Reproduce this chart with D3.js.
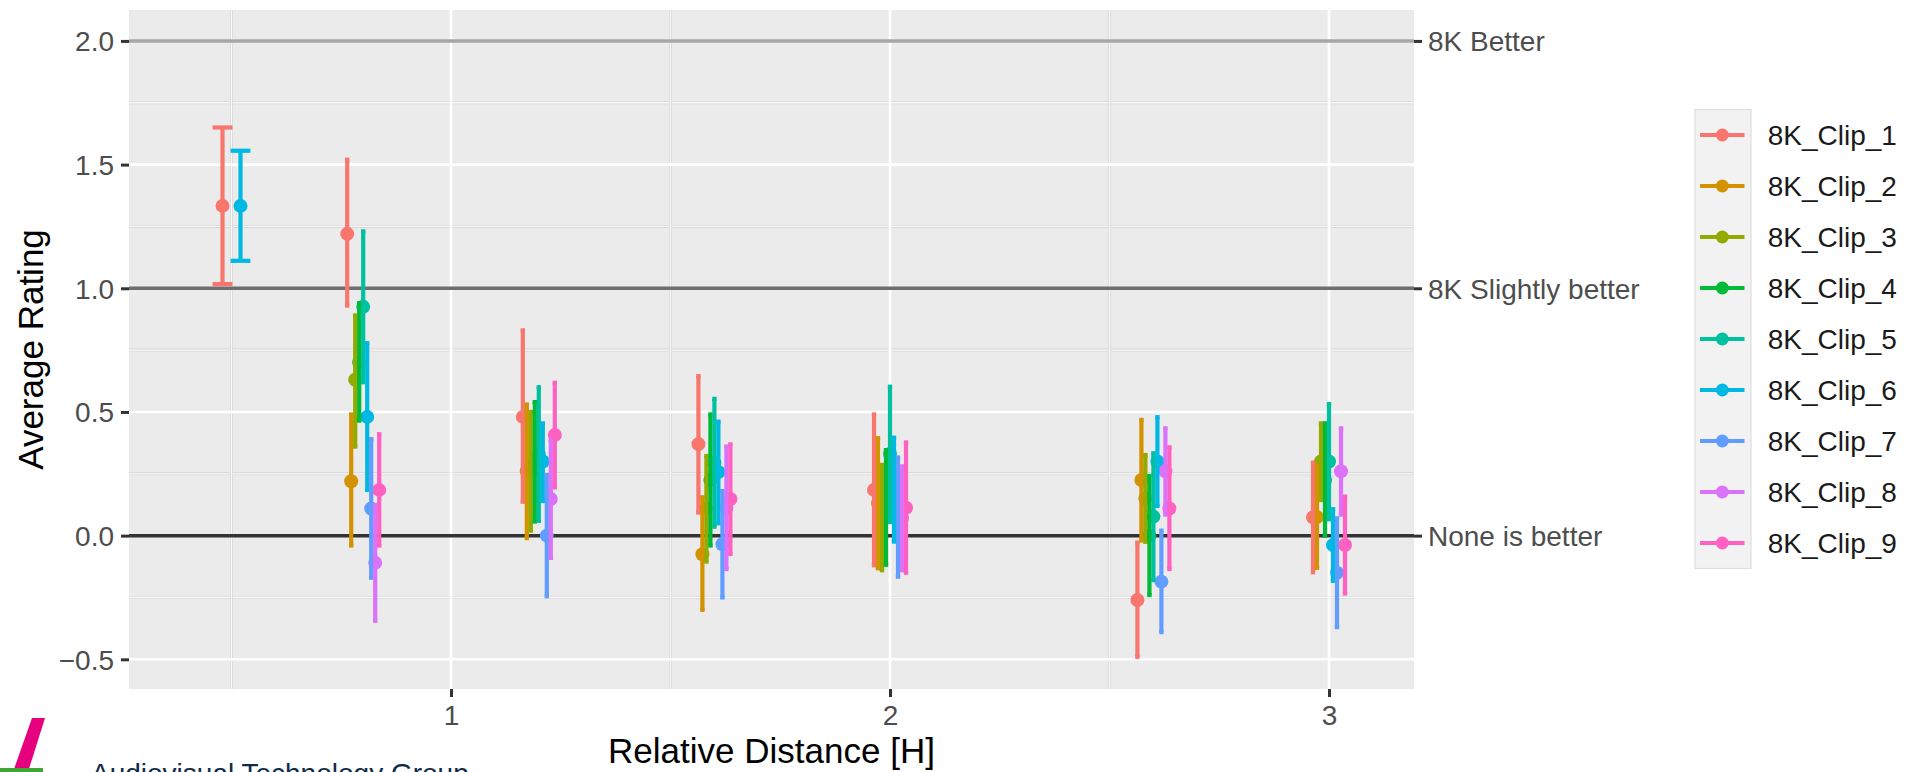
<!DOCTYPE html>
<html>
<head>
<meta charset="utf-8">
<script src="https://cdn.jsdelivr.net/npm/d3@7"></script>
<style>
  body { margin: 0; background: #fff; }
  svg { display: block; font-family: "Liberation Sans", Arial, sans-serif; }
</style>
</head>
<body>
<svg id="grafico" width="1906" height="772"></svg>
<script>
// distanze relative (asse x)
var distances = [0.5, 0.8, 1.2, 1.6, 2.0, 2.6, 3.0];

// nomi delle clip (legenda)
var clips = ['8K_Clip_1', '8K_Clip_2', '8K_Clip_3', '8K_Clip_4', '8K_Clip_5',
             '8K_Clip_6', '8K_Clip_7', '8K_Clip_8', '8K_Clip_9'];

var colors = ['#F8766D', '#D39200', '#93AA00', '#00BA38', '#00C19F',
              '#00B9E3', '#619CFF', '#DB72FB', '#FF61C3'];

// valori medi, una riga per clip, una colonna per distanza (null = non misurato)
var means = [
    [1.333, 1.22, 0.48, 0.37, 0.185, -0.26, 0.074],
    [null, 0.22, 0.26, -0.075, 0.13, 0.225, 0.075],
    [null, 0.63, 0.26, 0.11, 0.075, 0.15, 0.30],
    [null, 0.70, 0.30, 0.225, 0.114, 0.0, 0.225],
    [null, 0.925, 0.33, 0.295, 0.33, 0.077, 0.30],
    [1.333, 0.48, 0.30, 0.257, 0.186, 0.30, -0.038],
    [null, 0.11, 0.0, -0.035, 0.075, -0.186, -0.15],
    [null, -0.11, 0.148, 0.113, 0.07, 0.26, 0.26],
    [null, 0.185, 0.407, 0.148, 0.113, 0.11, -0.038]
];

// estremo inferiore dell'intervallo
var lowers = [
    [1.017, 0.93, 0.137, 0.093, -0.12, -0.49, -0.148],
    [null, -0.04, -0.01, -0.30, -0.132, -0.02, -0.13],
    [null, 0.36, 0.02, -0.105, -0.14, -0.025, 0.144],
    [null, 0.465, 0.057, -0.04, -0.118, -0.24, 0.0],
    [null, 0.62, 0.06, 0.036, 0.055, -0.18, 0.066],
    [1.111, 0.185, 0.14, 0.05, -0.024, 0.12, -0.183],
    [null, -0.17, -0.245, -0.25, -0.166, -0.39, -0.37],
    [null, -0.344, -0.09, -0.135, -0.14, 0.085, 0.085],
    [null, -0.04, 0.195, -0.074, -0.15, -0.135, -0.234]
];

// estremo superiore dell'intervallo
var uppers = [
    [1.65, 1.52, 0.83, 0.645, 0.49, -0.028, 0.295],
    [null, 0.49, 0.53, 0.155, 0.394, 0.468, 0.282],
    [null, 0.89, 0.50, 0.322, 0.286, 0.326, 0.454],
    [null, 0.94, 0.54, 0.49, 0.346, 0.241, 0.454],
    [null, 1.23, 0.60, 0.553, 0.602, 0.333, 0.532],
    [1.556, 0.778, 0.454, 0.461, 0.396, 0.479, 0.107],
    [null, 0.39, 0.245, 0.18, 0.316, 0.02, 0.07],
    [null, 0.124, 0.385, 0.36, 0.28, 0.434, 0.434],
    [null, 0.41, 0.618, 0.369, 0.377, 0.357, 0.158]
];

// tick asse y e linee di riferimento con etichette a destra
var yTicks = [-0.5, 0, 0.5, 1, 1.5, 2];
var yMinor = [-0.25, 0.25, 0.75, 1.25, 1.75];
var xTicks = [1, 2, 3];
var xMinor = [0.5, 1.5, 2.5];
var refValues = [2, 1, 0];
var refLabels = ['8K Better', '8K Slightly better', 'None is better'];
var refColors = ['#A6A6A6', '#6E6E6E', '#333333'];

var svg = d3.select('#grafico');

// area del pannello
var pannello = { left: 129, right: 1414, top: 10, bottom: 689 };

var x = d3.scaleLinear().domain([0.2665, 3.1936]).range([pannello.left, pannello.right]);
var y = d3.scaleLinear().domain([-0.62, 2.125]).range([pannello.bottom, pannello.top]);

var dodge = 0.082;

//costruisce la lista dei punti con la posizione "dodged"
var punti = [];
distances.forEach(function(d, j) {
    var presenti = [];
    clips.forEach(function(c, i) {
        if (means[i][j] !== null) presenti.push(i);
    });
    var n = presenti.length;
    presenti.forEach(function(i, k) {
        punti.push({
            clip: i,
            x: d - dodge / 2 + dodge * (k + 0.5) / n,
            cap: dodge / n * 1.1,
            mean: means[i][j],
            lo: lowers[i][j],
            hi: uppers[i][j]
        });
    });
});

// sfondo pannello
svg.append('rect')
    .attr('x', pannello.left).attr('y', pannello.top)
    .attr('width', pannello.right - pannello.left)
    .attr('height', pannello.bottom - pannello.top)
    .attr('fill', '#EBEBEB');

var griglia = svg.append('g');

//griglia minore
yMinor.forEach(function(v) {
    griglia.append('line')
        .attr('x1', pannello.left).attr('x2', pannello.right)
        .attr('y1', y(v)).attr('y2', y(v))
        .attr('stroke', '#D6D6D6').attr('stroke-width', 3);
    griglia.append('line')
        .attr('x1', pannello.left).attr('x2', pannello.right)
        .attr('y1', y(v)).attr('y2', y(v))
        .attr('stroke', '#FAFAFA').attr('stroke-width', 1.3);
});
xMinor.forEach(function(v) {
    griglia.append('line')
        .attr('y1', pannello.top).attr('y2', pannello.bottom)
        .attr('x1', x(v)).attr('x2', x(v))
        .attr('stroke', '#D6D6D6').attr('stroke-width', 3);
    griglia.append('line')
        .attr('y1', pannello.top).attr('y2', pannello.bottom)
        .attr('x1', x(v)).attr('x2', x(v))
        .attr('stroke', '#FAFAFA').attr('stroke-width', 1.3);
});

//griglia maggiore
yTicks.forEach(function(v) {
    griglia.append('line')
        .attr('x1', pannello.left).attr('x2', pannello.right)
        .attr('y1', y(v)).attr('y2', y(v))
        .attr('stroke', '#FFFFFF').attr('stroke-width', 2.6);
});
xTicks.forEach(function(v) {
    griglia.append('line')
        .attr('y1', pannello.top).attr('y2', pannello.bottom)
        .attr('x1', x(v)).attr('x2', x(v))
        .attr('stroke', '#FFFFFF').attr('stroke-width', 2.6);
});

//linee di riferimento
refValues.forEach(function(v, i) {
    svg.append('line')
        .attr('x1', pannello.left).attr('x2', pannello.right)
        .attr('y1', y(v)).attr('y2', y(v))
        .attr('stroke', refColors[i]).attr('stroke-width', 3.5);
});

//punti
svg.append('g').selectAll('circle')
    .data(punti)
    .enter().append('circle')
    .attr('cx', function(d) { return x(d.x); })
    .attr('cy', function(d) { return y(d.mean); })
    .attr('r', 7)
    .attr('fill', function(d) { return colors[d.clip]; });

//barre di errore
var barre = svg.append('g').selectAll('g')
    .data(punti)
    .enter().append('g')
    .attr('stroke', function(d) { return colors[d.clip]; })
    .attr('stroke-width', 4.2);

barre.append('line')
    .attr('x1', function(d) { return x(d.x); })
    .attr('x2', function(d) { return x(d.x); })
    .attr('y1', function(d) { return y(d.lo); })
    .attr('y2', function(d) { return y(d.hi); });

barre.append('line')
    .attr('x1', function(d) { return x(d.x - d.cap / 2); })
    .attr('x2', function(d) { return x(d.x + d.cap / 2); })
    .attr('y1', function(d) { return y(d.hi); })
    .attr('y2', function(d) { return y(d.hi); });

barre.append('line')
    .attr('x1', function(d) { return x(d.x - d.cap / 2); })
    .attr('x2', function(d) { return x(d.x + d.cap / 2); })
    .attr('y1', function(d) { return y(d.lo); })
    .attr('y2', function(d) { return y(d.lo); });

//asse sinistro
var asseY = svg.append('g')
    .attr('transform', 'translate(' + pannello.left + ',0)')
    .call(d3.axisLeft(y).tickValues(yTicks).tickSize(8).tickPadding(7)
        .tickFormat(d3.format('.1f')));
asseY.select('.domain').remove();
asseY.selectAll('line').attr('stroke', '#333333').attr('stroke-width', 3);
asseY.selectAll('text')
    .attr('fill', '#4D4D4D').style('font-size', '28px')
    .attr('dy', null).attr('y', 10)
    .text(function(d) { return d3.format('.1f')(d).replace('-', '\u2212'); });

//asse destro con le etichette
var asseDx = svg.append('g')
    .attr('transform', 'translate(' + pannello.right + ',0)')
    .call(d3.axisRight(y).tickValues(refValues).tickSize(8).tickPadding(6)
        .tickFormat(function(d, i) { return refLabels[i]; }));
asseDx.select('.domain').remove();
asseDx.selectAll('line').attr('stroke', '#333333').attr('stroke-width', 3);
asseDx.selectAll('text')
    .attr('fill', '#4D4D4D').style('font-size', '28px')
    .attr('dy', null).attr('y', 10);

//asse x
var asseX = svg.append('g')
    .attr('transform', 'translate(0,' + pannello.bottom + ')')
    .call(d3.axisBottom(x).tickValues(xTicks).tickSize(8).tickPadding(8)
        .tickFormat(d3.format('d')));
asseX.select('.domain').remove();
asseX.selectAll('line').attr('stroke', '#333333').attr('stroke-width', 3);
asseX.selectAll('text')
    .attr('fill', '#4D4D4D').style('font-size', '28px')
    .attr('dy', null).attr('y', 36);

//titoli assi
svg.append('text')
    .attr('x', (pannello.left + pannello.right) / 2)
    .attr('y', 763)
    .attr('text-anchor', 'middle')
    .style('font-size', '35px')
    .text('Relative Distance [H]');

svg.append('text')
    .attr('transform', 'translate(42.5,' + (pannello.top + pannello.bottom) / 2 + ') rotate(-90)')
    .attr('text-anchor', 'middle')
    .style('font-size', '35px')
    .text('Average Rating');

//legenda
var passo = 51;
var legenda = svg.append('g').attr('transform', 'translate(1695,109.5)');
legenda.append('rect')
    .attr('width', 56).attr('height', passo * clips.length)
    .attr('fill', '#F2F2F2').attr('stroke', '#DEDEDE').attr('stroke-width', 1.2);

var voci = legenda.selectAll('.voce')
    .data(clips)
    .enter().append('g')
    .attr('class', 'voce')
    .attr('transform', function(d, i) { return 'translate(0,' + (i * passo + passo / 2) + ')'; });

voci.append('line')
    .attr('x1', 5).attr('x2', 49.5)
    .attr('stroke', function(d, i) { return colors[i]; })
    .attr('stroke-width', 4);
voci.append('circle')
    .attr('cx', 27.3).attr('r', 6.5)
    .attr('fill', function(d, i) { return colors[i]; });
voci.append('text')
    .attr('x', 72.7).attr('y', 10)
    .style('font-size', '28px')
    .attr('fill', '#1A1A1A')
    .text(function(d) { return d; });

//logo in basso a sinistra (tagliato dal bordo)
svg.append('path')
    .attr('d', 'M32,718 L45,718 L28,772 L13,772 Z')
    .attr('fill', '#E6007E');
svg.append('rect')
    .attr('x', 0).attr('y', 768).attr('width', 43).attr('height', 4)
    .attr('fill', '#3FA535');
svg.append('text')
    .attr('x', 91).attr('y', 783)
    .style('font-size', '28px')
    .attr('fill', '#0E2A47')
    .text('Audiovisual Technology Group');
</script>
</body>
</html>
